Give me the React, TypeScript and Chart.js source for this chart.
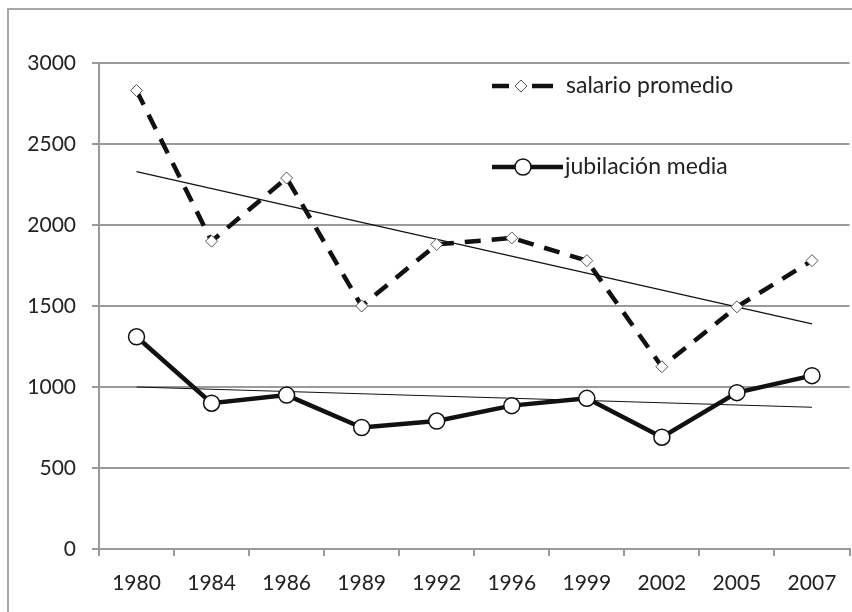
import React, { useEffect, useRef } from 'react';
import { Chart, registerables } from 'chart.js';

Chart.register(...registerables);

const years = ['1980', '1984', '1986', '1989', '1992', '1996', '1999', '2002', '2005', '2007'];
const salarioPromedio = [2830, 1900, 2290, 1500, 1880, 1920, 1780, 1125, 1495, 1780];
const jubilacionMedia = [1310, 900, 950, 750, 790, 885, 930, 690, 965, 1070];
// trend lines (start and end values)
const salarioTrend = [2330, null, null, null, null, null, null, null, null, 1390];
const jubilacionTrend = [1000, null, null, null, null, null, null, null, null, 875];
const yMin = 0;
const yMax = 3000;
const yStep = 500;
const seriesNames = ['salario promedio', 'jubilación media'];

const FONT = 'Lato, "Open Sans", sans-serif';
const TEXT = '#222';
const GRID = '#9a9a9a';

const legendPlugin = {
  id: 'insideLegend',
  afterDraw(chart: any) {
    const { ctx, chartArea } = chart;
    const x0 = chartArea.left + 393;
    const yA = chartArea.top + 23;
    const yB = chartArea.top + 104;
    ctx.save();
    ctx.strokeStyle = '#111';
    ctx.lineCap = 'butt';
    // salario sample
    ctx.lineWidth = 4.5;
    ctx.beginPath();
    ctx.moveTo(x0, yA);
    ctx.lineTo(x0 + 17, yA);
    ctx.moveTo(x0 + 40, yA);
    ctx.lineTo(x0 + 61, yA);
    ctx.stroke();
    const dx = x0 + 29;
    ctx.lineWidth = 1;
    ctx.strokeStyle = '#555';
    ctx.fillStyle = '#fff';
    ctx.beginPath();
    ctx.moveTo(dx, yA - 6);
    ctx.lineTo(dx + 6, yA);
    ctx.lineTo(dx, yA + 6);
    ctx.lineTo(dx - 6, yA);
    ctx.closePath();
    ctx.fill();
    ctx.stroke();
    // jubilacion sample
    ctx.strokeStyle = '#111';
    ctx.lineWidth = 4.5;
    ctx.beginPath();
    ctx.moveTo(x0, yB);
    ctx.lineTo(x0 + 71, yB);
    ctx.stroke();
    ctx.lineWidth = 1.5;
    ctx.beginPath();
    ctx.arc(x0 + 31, yB, 8, 0, Math.PI * 2);
    ctx.fill();
    ctx.stroke();
    // texts
    ctx.fillStyle = TEXT;
    ctx.font = '23px ' + FONT;
    ctx.textBaseline = 'middle';
    ctx.textAlign = 'left';
    ctx.fillText(seriesNames[0], x0 + 74, yA);
    ctx.fillText(seriesNames[1], x0 + 73, yB);
    ctx.restore();
  },
};

export default function App() {
  const ref = useRef<HTMLCanvasElement | null>(null);

  useEffect(() => {
    if (!ref.current) return;
    const chart = new Chart(ref.current, {
      type: 'line',
      data: {
        labels: years,
        datasets: [
          {
            label: seriesNames[0],
            data: salarioPromedio,
            borderColor: '#111',
            borderWidth: 4.5,
            borderDash: [16, 11],
            borderCapStyle: 'butt',
            pointStyle: 'rectRot',
            pointRadius: 6,
            pointBackgroundColor: '#fff',
            pointBorderColor: '#555',
            pointBorderWidth: 1,
            tension: 0,
          },
          {
            label: seriesNames[1],
            data: jubilacionMedia,
            borderColor: '#111',
            borderWidth: 4.5,
            pointStyle: 'circle',
            pointRadius: 8,
            pointBackgroundColor: '#fff',
            pointBorderColor: '#111',
            pointBorderWidth: 1.5,
            tension: 0,
          },
          {
            label: 'trend salario',
            data: salarioTrend,
            borderColor: '#111',
            borderWidth: 1.2,
            pointRadius: 0,
            spanGaps: true,
          },
          {
            label: 'trend jubilacion',
            data: jubilacionTrend,
            borderColor: '#111',
            borderWidth: 1.2,
            pointRadius: 0,
            spanGaps: true,
          },
        ],
      },
      options: {
        animation: false,
        responsive: false,
        events: [],
        layout: { padding: { top: 53, left: 0, right: 0, bottom: 0 } },
        plugins: {
          legend: { display: false },
          tooltip: { enabled: false },
        },
        scales: {
          x: {
            offset: true,
            grid: {
              offset: true,
              drawOnChartArea: false,
              drawTicks: true,
              tickLength: 7,
              color: GRID,
              lineWidth: 2,
            },
            border: { display: true, color: GRID, width: 2 },
            ticks: {
              color: TEXT,
              font: { family: FONT, size: 21 },
              padding: 15,
              maxRotation: 0,
              autoSkip: false,
            },
            afterFit: (scale: any) => {
              scale.height = 63;
            },
          },
          y: {
            min: yMin,
            max: yMax,
            grid: {
              color: GRID,
              lineWidth: 2,
              drawTicks: true,
              tickLength: 7,
            },
            border: { display: true, color: GRID, width: 2 },
            ticks: {
              stepSize: yStep,
              color: TEXT,
              font: { family: FONT, size: 21 },
              padding: 16,
              callback: (v: any) => String(v),
            },
            afterFit: (scale: any) => {
              scale.width = 90;
            },
          },
        },
      },
      plugins: [legendPlugin],
    } as any);
    return () => chart.destroy();
  }, []);

  return (
    <div
      style={{
        position: 'fixed',
        left: 7,
        top: 8,
        width: 845,
        height: 604,
        overflow: 'hidden',
        boxSizing: 'border-box',
        borderLeft: '2px solid #a8a8a8',
        borderTop: '2px solid #a8a8a8',
        background: '#fff',
      }}
    >
      <canvas ref={ref} width={850} height={602} style={{ display: 'block' }} />
    </div>
  );
}
